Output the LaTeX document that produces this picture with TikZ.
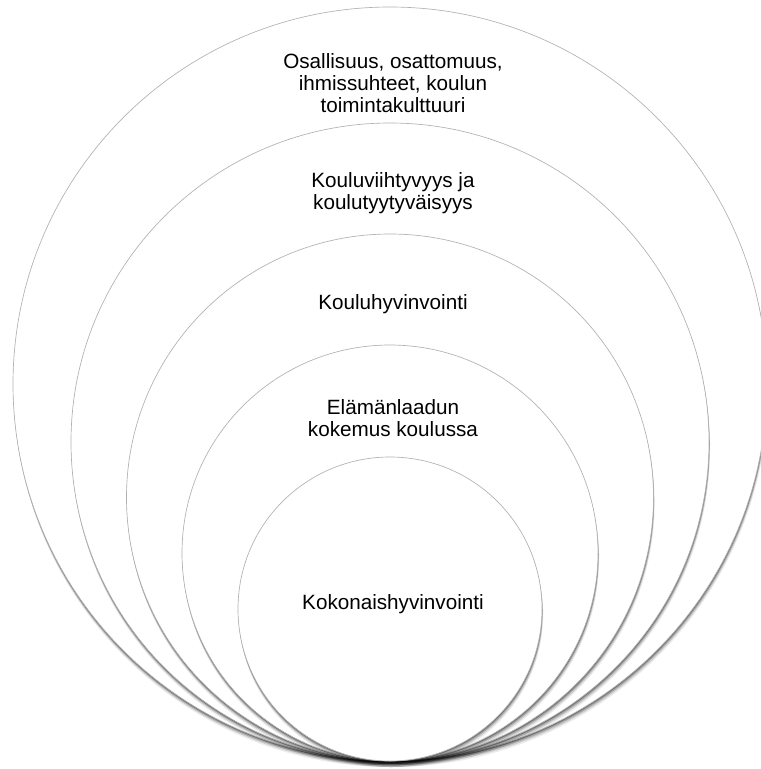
\documentclass[tikz,border=0pt]{standalone}
\usepackage{fontspec}
\setmainfont{Liberation Sans}
\usepackage{tikz}

\tikzset{
  ring/.style={circle, draw=black!30, line width=0.5pt, fill=white, inner sep=0pt,
    preaction={fill=black, fill opacity=0.08, transform canvas={xshift=0.8pt, yshift=-4.5pt}},
    preaction={fill=black, fill opacity=0.12, transform canvas={xshift=0.6pt, yshift=-3.3pt}},
    preaction={fill=black, fill opacity=0.20, transform canvas={xshift=0.4pt, yshift=-2.2pt}},
    preaction={fill=black, fill opacity=0.30, transform canvas={xshift=0.2pt, yshift=-1.1pt}}},
  ringtext/.style={align=center, font=\fontsize{15.5}{16.5}\selectfont, text=black}
}

\begin{document}
\begin{tikzpicture}[x=0.75pt, y=-0.75pt]
% Cadru - same size as the reference
\useasboundingbox (0,0) rectangle (761,769);

% Cercuri - from the outside in, all touching at the bottom
\node[ring, minimum size=754*0.75pt] (osallisuus) at (390,384) {};
\node[ring, minimum size=638*0.75pt] (viihtyvyys) at (390,442) {};
\node[ring, minimum size=527*0.75pt] (kouluhyv) at (390,497.5) {};
\node[ring, minimum size=416*0.75pt] (elamanlaatu) at (390,553) {};
\node[ring, minimum size=304*0.75pt] (kokonais) at (390,609) {};

% Texte - one label near the top of each ring
\node[ringtext] (t-osallisuus) at (393,83) {Osallisuus, osattomuus,\\ihmissuhteet, koulun\\toimintakulttuuri};
\node[ringtext] (t-viihtyvyys) at (393,193) {Kouluviihtyvyys ja\\koulutyytyväisyys};
\node[ringtext] (t-kouluhyv) at (393,304) {Kouluhyvinvointi};
\node[ringtext] (t-elamanlaatu) at (393,418) {Elämänlaadun\\kokemus koulussa};
\node[ringtext] (t-kokonais) at (393,604) {Kokonaishyvinvointi};

\end{tikzpicture}
\end{document}
